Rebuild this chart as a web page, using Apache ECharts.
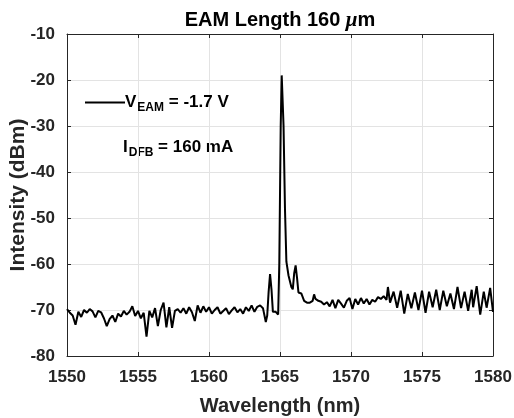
<!DOCTYPE html>
<html>
<head>
<meta charset="utf-8">
<script src="https://cdn.jsdelivr.net/npm/echarts@6/dist/echarts.min.js"></script>
<style>
  html, body { margin: 0; padding: 0; background: #fff; }
  #chart { width: 514px; height: 418px; }
</style>
</head>
<body>
<div id="chart"></div>
<script>
// wavelength (nm)
var wavelength = [
  1550.0, 1550.2, 1550.4, 1550.6, 1550.8, 1551.0, 1551.2, 1551.4, 1551.6, 1551.8,
  1552.0, 1552.2, 1552.4, 1552.6, 1552.8, 1553.0, 1553.2, 1553.4, 1553.6, 1553.8,
  1554.0, 1554.2, 1554.4, 1554.6, 1554.8, 1555.0, 1555.2, 1555.4, 1555.6, 1555.8,
  1556.0, 1556.2, 1556.4, 1556.6, 1556.8, 1557.0, 1557.2, 1557.4, 1557.6, 1557.8,
  1558.0, 1558.2, 1558.4, 1558.6, 1558.8, 1559.0, 1559.2, 1559.4, 1559.6, 1559.8,
  1560.0, 1560.2, 1560.4, 1560.6, 1560.8, 1561.0, 1561.2, 1561.4, 1561.6, 1561.8,
  1562.0, 1562.2, 1562.4, 1562.6, 1562.8, 1563.0, 1563.2, 1563.4, 1563.6, 1563.8,
  1564.0, 1564.1, 1564.2, 1564.3, 1564.4, 1564.5, 1564.6, 1564.7, 1564.8, 1564.87,
  1564.95, 1565.05, 1565.12, 1565.18, 1565.25, 1565.35, 1565.45, 1565.6, 1565.8, 1565.9,
  1566.0, 1566.1, 1566.2, 1566.3, 1566.5, 1566.7, 1566.9, 1567.1, 1567.3, 1567.4,
  1567.5, 1567.7, 1567.9, 1568.1, 1568.3, 1568.5, 1568.7, 1568.9, 1569.1, 1569.3,
  1569.5, 1569.7, 1569.9, 1570.1, 1570.3, 1570.5, 1570.7, 1570.9, 1571.1, 1571.3,
  1571.5, 1571.7, 1571.9, 1572.1, 1572.3, 1572.5, 1572.6, 1572.75, 1573.0, 1573.25,
  1573.5, 1573.75, 1574.0, 1574.25, 1574.5, 1574.75, 1575.0, 1575.25, 1575.5, 1575.75,
  1576.0, 1576.25, 1576.5, 1576.75, 1577.0, 1577.25, 1577.5, 1577.75, 1578.0, 1578.25,
  1578.5, 1578.6, 1578.85, 1579.1, 1579.35, 1579.55, 1579.8, 1580.0
];
// intensity (dBm)
var intensity = [
  -69.8, -70.6, -71.2, -73.2, -70.4, -71.5, -70.0, -70.6, -69.8, -70.3,
  -71.6, -70.2, -70.5, -71.8, -73.5, -72.0, -71.2, -72.6, -70.8, -71.4,
  -70.2, -71.0, -70.4, -69.2, -71.3, -70.2, -71.8, -70.6, -75.8, -70.2,
  -71.6, -69.6, -73.5, -70.0, -68.4, -73.8, -69.4, -73.9, -70.2, -69.8,
  -70.6, -69.6, -70.8, -69.4, -70.5, -72.4, -69.0, -70.6, -69.2, -70.4,
  -69.4, -70.8, -70.0, -69.4, -70.8, -70.2, -69.6, -70.9, -70.1, -69.4,
  -70.5, -69.8, -70.8, -69.4, -70.2, -69.0, -70.4, -69.3, -69.0, -69.6,
  -72.6, -71.2, -66.0, -62.2, -65.5, -70.4, -70.2, -70.4, -70.8, -71.0,
  -60.0, -30.0, -19.0, -18.8, -30.0, -48.0, -59.5, -62.5, -65.0, -65.5,
  -62.0, -60.3, -63.0, -66.2, -66.4, -68.0, -68.4, -68.4, -68.0, -66.6,
  -67.6, -68.0, -68.2, -68.8, -68.3, -69.2, -67.8, -69.6, -67.8, -68.6,
  -69.5, -68.0, -67.4, -69.8, -67.6, -68.8, -67.4, -68.6, -67.6, -68.8,
  -67.8, -68.2, -67.2, -67.6, -67.0, -67.8, -65.0, -68.4, -66.0, -69.5,
  -65.8, -70.8, -66.5, -69.6, -66.2, -70.0, -65.8, -70.6, -66.0, -69.4,
  -65.6, -70.0, -65.8, -69.2, -66.4, -69.8, -65.0, -69.6, -66.0, -70.2,
  -65.6, -69.4, -64.8, -71.0, -66.0, -69.5, -65.2, -70.4
];
var xTicks = [1550, 1555, 1560, 1565, 1570, 1575, 1580];
var yTicks = [-80, -70, -60, -50, -40, -30, -20, -10];

var points = wavelength.map(function (w, i) { return [w, intensity[i]]; });

var axisColor = '#262626';
var gridColor = '#e3e3e3';
var fontFamily = 'Liberation Sans, Arial, sans-serif';

var myChart = echarts.init(document.getElementById('chart'), null, { renderer: 'canvas' });

// box axes on top / right (ticks only, like a boxed plot)
function frameAxis(pos, isX) {
  return {
    type: 'value',
    position: pos,
    min: isX ? xTicks[0] : yTicks[0],
    max: isX ? xTicks[xTicks.length - 1] : yTicks[yTicks.length - 1],
    interval: isX ? 5 : 10,
    axisLine: { show: true, lineStyle: { color: axisColor, width: 1 } },
    axisTick: { show: true, inside: true, length: 4, lineStyle: { color: axisColor } },
    axisLabel: { show: false },
    splitLine: { show: false }
  };
}

var richMain = { fontFamily: fontFamily, fontWeight: 'bold', fontSize: 17, color: '#000' };
var richSub = { fontFamily: fontFamily, fontWeight: 'bold', fontSize: 12, color: '#000', padding: [11, 0, 0, 1] };

myChart.setOption({
  animation: false,
  backgroundColor: '#fff',
  title: {
    text: 'EAM Length 160 {i|μ}m',
    left: 275,
    textAlign: 'center',
    top: 5,
    textStyle: {
      fontFamily: fontFamily,
      fontSize: 20,
      fontWeight: 'bold',
      color: '#000',
      rich: {
        i: { fontFamily: 'Liberation Serif, serif', fontStyle: 'italic', fontSize: 21, color: '#000' }
      }
    }
  },
  grid: { left: 67, top: 34, right: 21, bottom: 62, outerBoundsMode: 'none', containLabel: false },
  legend: {
    show: true,
    left: 85,
    top: 94,
    padding: 0,
    itemWidth: 40,
    itemHeight: 2,
    itemGap: 0,
    data: [{ name: 'veam', icon: 'rect' }],
    formatter: function () { return '{b|V}{s|EAM}{b| = -1.7 V}'; },
    textStyle: {
      color: '#000',
      padding: [0, 0, 0, -5],
      rich: { b: richMain, s: richSub }
    }
  },
  graphic: [{
    type: 'text',
    left: 123,
    top: 139,
    style: {
      text: '{b|I}{s|DFB}{b| = 160 mA}',
      rich: {
        b: { fontFamily: fontFamily, fontWeight: 'bold', fontSize: 17, fill: '#000' },
        s: { fontFamily: fontFamily, fontWeight: 'bold', fontSize: 12, fill: '#000', padding: [11, 0, 0, 1] }
      }
    }
  }],
  xAxis: [{
    type: 'value',
    min: xTicks[0],
    max: xTicks[xTicks.length - 1],
    interval: 5,
    name: 'Wavelength (nm)',
    nameLocation: 'middle',
    nameGap: 40,
    nameMoveOverlap: false,
    nameTextStyle: { fontFamily: fontFamily, fontSize: 20, fontWeight: 'bold', color: '#262626' },
    axisLine: { show: true, lineStyle: { color: axisColor, width: 1 } },
    axisTick: { show: true, inside: true, length: 4, lineStyle: { color: axisColor } },
    axisLabel: {
      margin: 13, fontFamily: fontFamily, fontSize: 17, fontWeight: 'bold', color: '#262626',
      formatter: function (v) { return String(v); }
    },
    splitLine: { show: true, lineStyle: { color: gridColor, width: 1 } }
  }, frameAxis('top', true)],
  yAxis: [{
    type: 'value',
    min: yTicks[0],
    max: yTicks[yTicks.length - 1],
    interval: 10,
    name: 'Intensity (dBm)',
    nameLocation: 'middle',
    nameGap: 38,
    nameMoveOverlap: false,
    nameTextStyle: { fontFamily: fontFamily, fontSize: 21, fontWeight: 'bold', color: '#262626' },
    axisLine: { show: true, lineStyle: { color: axisColor, width: 1 } },
    axisTick: { show: true, inside: true, length: 4, lineStyle: { color: axisColor } },
    axisLabel: {
      margin: 12, fontFamily: fontFamily, fontSize: 17, fontWeight: 'bold', color: '#262626',
      formatter: function (v) { return String(v); }
    },
    splitLine: { show: true, lineStyle: { color: gridColor, width: 1 } }
  }, frameAxis('right', false)],
  series: [{
    name: 'veam',
    type: 'line',
    data: points,
    symbol: 'none',
    lineStyle: { color: '#000', width: 2 },
    itemStyle: { color: '#000' },
    z: 5
  }]
});
</script>
</body>
</html>
